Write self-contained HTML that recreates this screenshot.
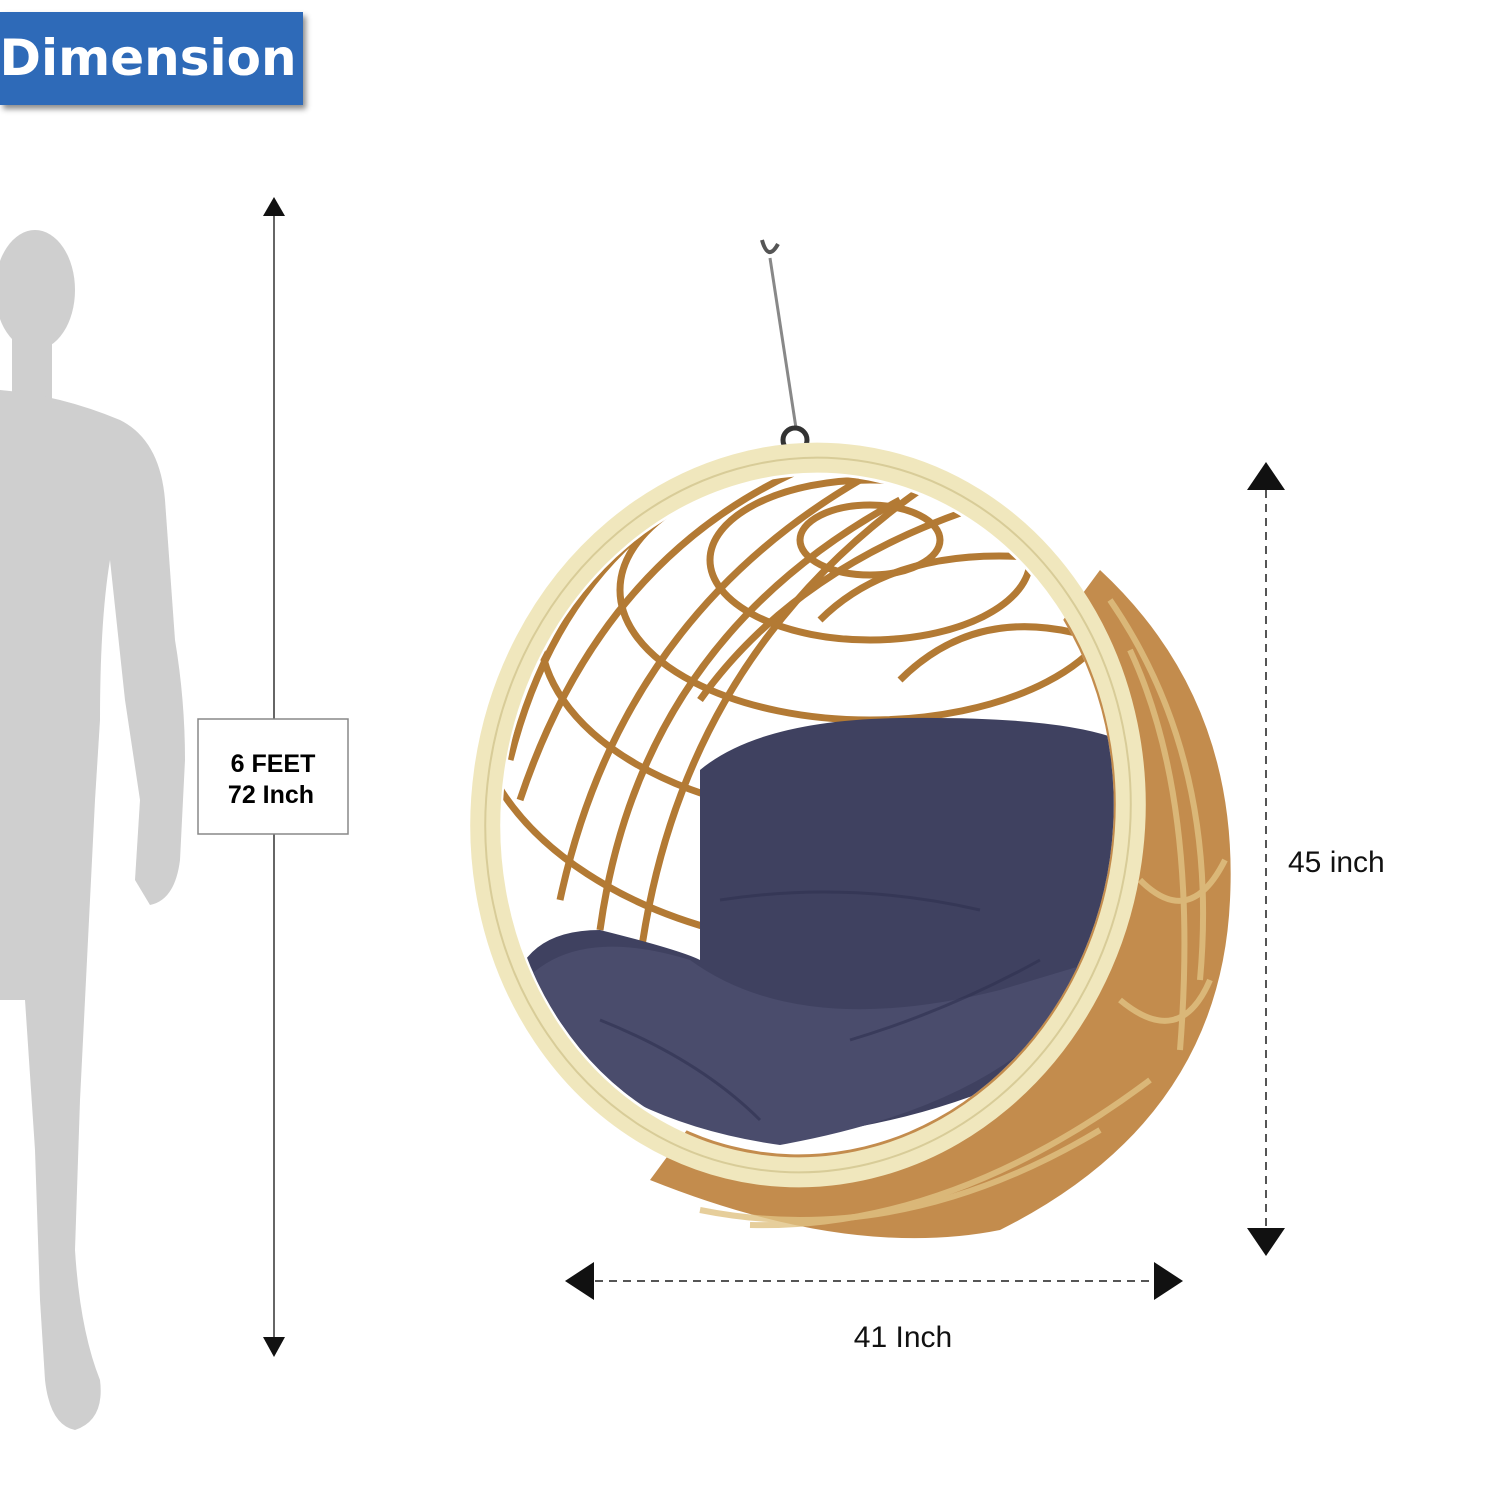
<!DOCTYPE html>
<html><head><meta charset="utf-8"><style>
html,body{margin:0;padding:0;background:#fff;}
body{width:1500px;height:1500px;position:relative;overflow:hidden;font-family:"Liberation Sans",sans-serif;}
</style></head><body>
<svg width="1500" height="1500" viewBox="0 0 1500 1500" style="position:absolute;left:0;top:0">
<defs>
<filter id="sh" x="-10%" y="-10%" width="130%" height="140%"><feDropShadow dx="3" dy="4" stdDeviation="3" flood-color="#000" flood-opacity="0.45"/></filter>
<clipPath id="inner"><ellipse cx="808" cy="815" rx="305" ry="340" transform="rotate(8 808 815)"/></clipPath>
</defs>
<rect x="0" y="12" width="303" height="93" fill="#2f6ab8" filter="url(#sh)"/>
<text x="148" y="75" text-anchor="middle" font-family="DejaVu Sans, sans-serif" font-weight="bold" font-size="50" fill="#fff">Dimension</text>
<g fill="#cfcfcf">
<ellipse cx="35" cy="290" rx="40" ry="60"/>
<rect x="12" y="330" width="40" height="70"/>
<path d="M0 390 Q60 395 120 420 Q160 440 165 500 L175 640 Q185 700 185 760 L180 860 Q175 900 150 905 L135 880 L140 800 L125 700 L110 560 Q100 620 100 720 L95 800 L90 900 Q85 1000 80 1100 L75 1250 Q80 1330 100 1380 Q105 1420 75 1430 Q50 1425 45 1380 L40 1300 L35 1150 L25 1000 L0 1000 Z"/>
</g>
<line x1="274" y1="210" x2="274" y2="1342" stroke="#333" stroke-width="1.5"/>
<polygon points="274,197 263,216 285,216" fill="#111"/>
<polygon points="274,1357 263,1337 285,1337" fill="#111"/>
<rect x="198" y="719" width="150" height="115" fill="#fff" stroke="#888" stroke-width="1.5"/>
<text x="273" y="772" text-anchor="middle" font-weight="bold" font-size="25" fill="#000">6 FEET</text>
<text x="271" y="803" text-anchor="middle" font-weight="bold" font-size="25" fill="#000">72 Inch</text>
<path d="M762 240 Q768 262 778 244" fill="none" stroke="#555" stroke-width="4"/>
<line x1="770" y1="258" x2="796" y2="428" stroke="#888" stroke-width="3"/>
<circle cx="795" cy="440" r="12" fill="none" stroke="#333" stroke-width="5"/>
<path d="M1100 570 Q1240 700 1230 900 Q1220 1120 1000 1230 Q850 1260 650 1180 Z" fill="#b8782e" opacity="0.85"/>
<g stroke="#e0c283" stroke-width="6" fill="none" opacity="0.8">
<path d="M1110 600 Q1220 760 1200 980"/><path d="M1130 650 Q1200 800 1180 1050"/>
<path d="M700 1210 Q900 1250 1100 1130"/><path d="M750 1225 Q950 1230 1150 1080"/>
<path d="M1120 1000 Q1180 1050 1210 980"/><path d="M1140 880 Q1190 930 1225 860"/>
</g>
<g clip-path="url(#inner)">
<rect x="450" y="450" width="700" height="750" fill="#fff"/>
<g stroke="#b37a34" stroke-width="7" fill="none">
<ellipse cx="870" cy="540" rx="70" ry="35"/>
<ellipse cx="870" cy="560" rx="160" ry="80"/>
<ellipse cx="870" cy="590" rx="250" ry="130"/>
<ellipse cx="870" cy="630" rx="330" ry="190"/>
<ellipse cx="870" cy="690" rx="400" ry="260"/>
<ellipse cx="870" cy="760" rx="460" ry="330"/>
<ellipse cx="870" cy="840" rx="500" ry="400"/>
<path d="M520 800 Q600 560 800 470"/><path d="M560 900 Q620 620 860 480"/>
<path d="M640 960 Q680 660 920 490"/><path d="M700 700 Q800 560 1000 500"/>
<path d="M510 760 Q560 560 720 480"/><path d="M600 930 Q640 640 900 500"/>
<path d="M820 620 Q900 540 1060 560"/><path d="M900 680 Q980 600 1100 640"/>
</g>
<path d="M700 770 Q760 720 900 718 Q1060 716 1120 740 L1140 1000 Q1000 1120 760 1140 Q600 1110 510 1000 Q520 930 600 930 Q680 950 700 960 Z" fill="#3f4160"/>
<path d="M510 1000 Q560 920 690 960 Q800 1040 1000 990 L1100 960 Q1030 1100 780 1145 Q600 1120 510 1000 Z" fill="#4a4c6c"/>
<g stroke="#2f3150" stroke-width="3" fill="none" opacity="0.6">
<path d="M720 900 Q850 880 980 910"/><path d="M600 1020 Q700 1060 760 1120"/><path d="M850 1040 Q950 1010 1040 960"/>
</g>
</g>
<ellipse cx="808" cy="815" rx="322" ry="358" transform="rotate(8 808 815)" fill="none" stroke="#f0e7bd" stroke-width="30"/>
<ellipse cx="808" cy="815" rx="322" ry="358" transform="rotate(8 808 815)" fill="none" stroke="#d8cc98" stroke-width="2"/>
<line x1="1266" y1="490" x2="1266" y2="1230" stroke="#555" stroke-width="2" stroke-dasharray="8,6"/>
<polygon points="1266,462 1247,490 1285,490" fill="#111"/>
<polygon points="1266,1256 1247,1228 1285,1228" fill="#111"/>
<text x="1288" y="872" font-size="30" fill="#111">45 inch</text>
<line x1="595" y1="1281" x2="1155" y2="1281" stroke="#555" stroke-width="2" stroke-dasharray="8,6"/>
<polygon points="565,1281 594,1262 594,1300" fill="#111"/>
<polygon points="1183,1281 1154,1262 1154,1300" fill="#111"/>
<text x="903" y="1347" text-anchor="middle" font-size="30" fill="#111">41 Inch</text>
</svg>
</body></html>
